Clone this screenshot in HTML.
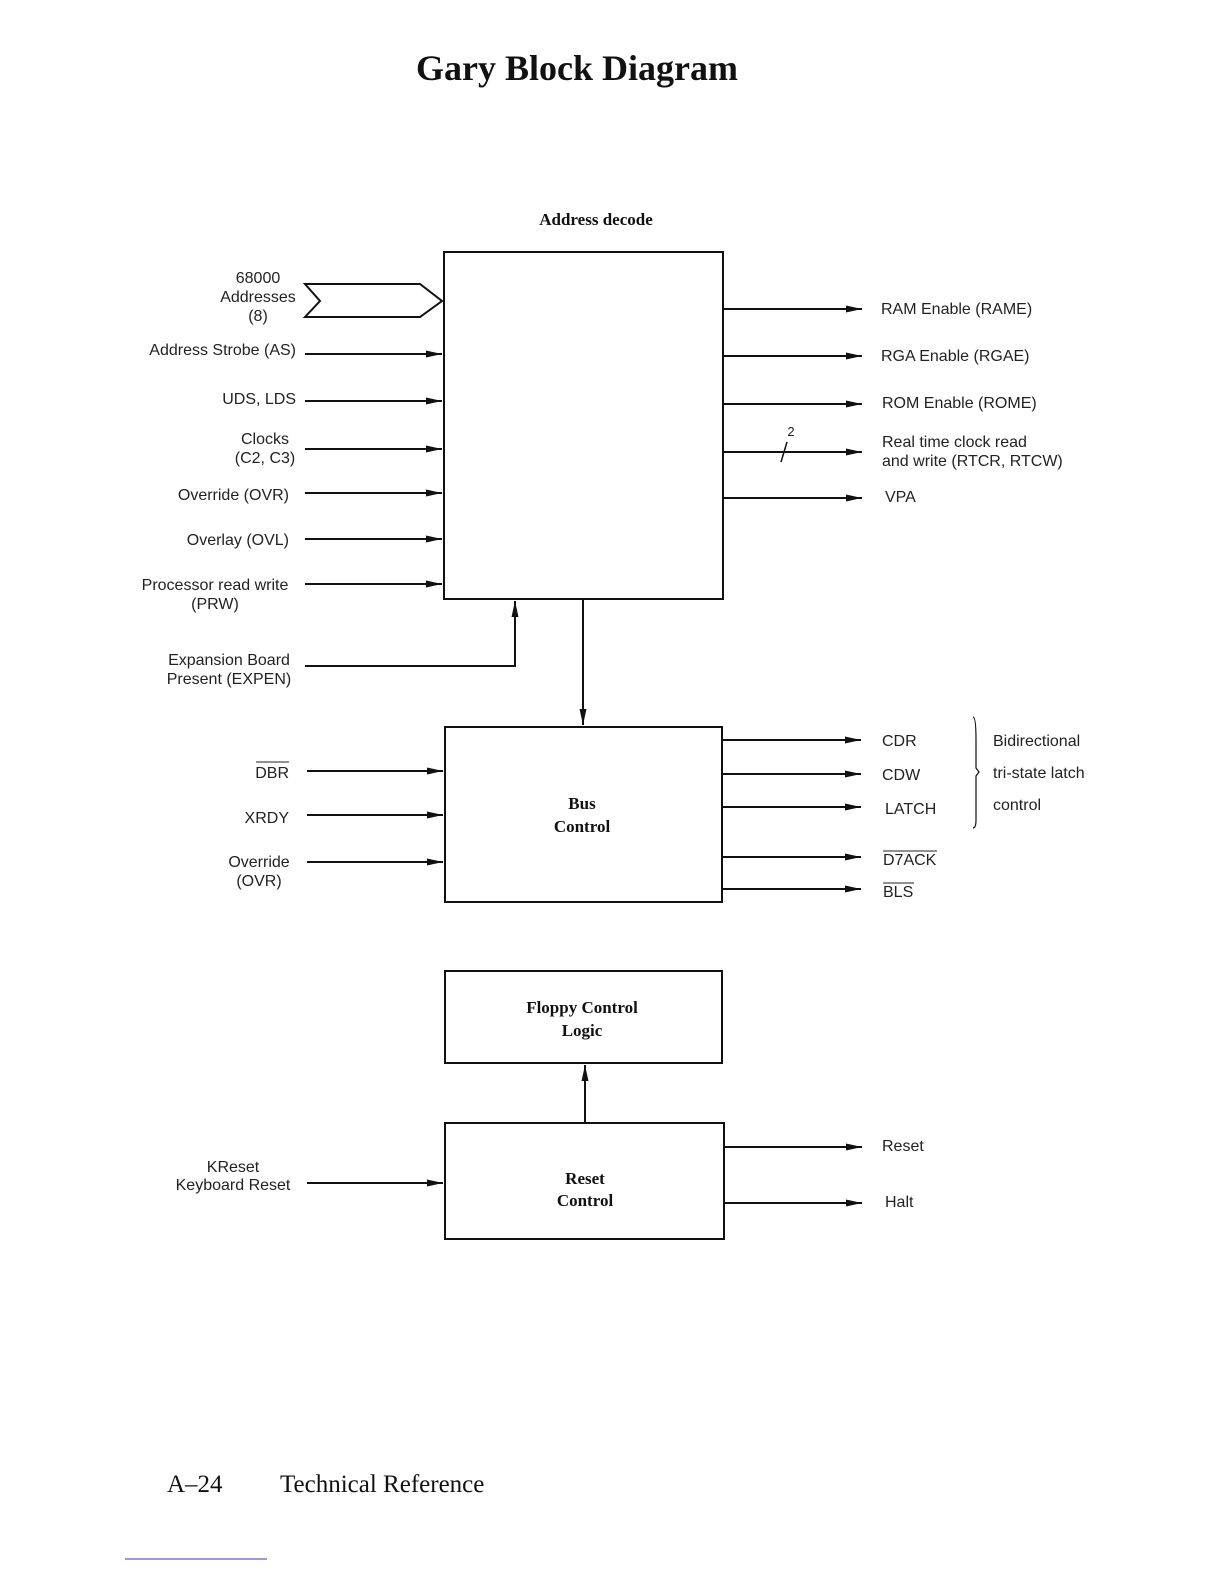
<!DOCTYPE html>
<html><head><meta charset="utf-8"><style>
body{margin:0;background:#fff;}
svg{display:block;}
text{font-family:"Liberation Sans",sans-serif;font-size:16px;fill:#222;}
.s{font-family:"Liberation Serif",serif;font-weight:bold;font-size:17px;fill:#111;}
</style></head><body>
<svg width="1224" height="1584" viewBox="0 0 1224 1584" xmlns="http://www.w3.org/2000/svg">
<defs><marker id="a" viewBox="0 0 16 8" refX="16" refY="4" markerWidth="16" markerHeight="8" markerUnits="userSpaceOnUse" orient="auto"><path d="M0,0.5 L16,4 L0,7.5 z" fill="#111"/></marker></defs>
<text x="577" y="80" text-anchor="middle" style="font-family:'Liberation Serif',serif;font-weight:bold;font-size:36px;fill:#111">Gary Block Diagram</text>
<text x="596" y="225" text-anchor="middle" class="s">Address decode</text>
<g fill="none" stroke="#111" stroke-width="2">
<rect x="444" y="252" width="279" height="347"/>
<rect x="445" y="727" width="277" height="175"/>
<rect x="445" y="971" width="277" height="92"/>
<rect x="445" y="1123" width="279" height="116"/>
<path d="M305,284 L420,284 L442,301 L420,317 L305,317 L320,301 Z"/>
<path d="M305,666 L515,666 L515,601" marker-end="url(#a)"/>
<path d="M583,599 L583,725" marker-end="url(#a)"/>
<path d="M585,1123 L585,1065" marker-end="url(#a)"/>
<path d="M781,462 L787,442" stroke-width="1.5"/>
<path d="M973,717 Q976,717 976,740 L976,768 L979,772 L976,776 L976,820 Q976,828 973,828" stroke-width="1.2"/>
</g>
<g stroke="#111" stroke-width="2" marker-end="url(#a)">
<line x1="305" y1="354" x2="442" y2="354"/>
<line x1="305" y1="401" x2="442" y2="401"/>
<line x1="305" y1="449" x2="442" y2="449"/>
<line x1="305" y1="493" x2="442" y2="493"/>
<line x1="305" y1="539" x2="442" y2="539"/>
<line x1="305" y1="584" x2="442" y2="584"/>
<line x1="723" y1="309" x2="862" y2="309"/>
<line x1="723" y1="356" x2="862" y2="356"/>
<line x1="723" y1="404" x2="862" y2="404"/>
<line x1="723" y1="452" x2="862" y2="452"/>
<line x1="723" y1="498" x2="862" y2="498"/>
<line x1="307" y1="771" x2="443" y2="771"/>
<line x1="307" y1="815" x2="443" y2="815"/>
<line x1="307" y1="862" x2="443" y2="862"/>
<line x1="722" y1="740" x2="861" y2="740"/>
<line x1="722" y1="774" x2="861" y2="774"/>
<line x1="722" y1="807" x2="861" y2="807"/>
<line x1="722" y1="857" x2="861" y2="857"/>
<line x1="722" y1="889" x2="861" y2="889"/>
<line x1="307" y1="1183" x2="443" y2="1183"/>
<line x1="724" y1="1147" x2="862" y2="1147"/>
<line x1="724" y1="1203" x2="862" y2="1203"/>
</g>
<g text-anchor="middle">
<text x="258" y="283">68000</text><text x="258" y="302">Addresses</text><text x="258" y="321">(8)</text>
<text x="265" y="444">Clocks</text><text x="265" y="463">(C2, C3)</text>
<text x="215" y="590">Processor read write</text><text x="215" y="609">(PRW)</text>
<text x="229" y="665">Expansion Board</text><text x="229" y="684">Present (EXPEN)</text>
<text x="259" y="867">Override</text><text x="259" y="886">(OVR)</text>
<text x="233" y="1172">KReset</text><text x="233" y="1190">Keyboard Reset</text>
<text x="791" y="436" style="font-size:13px">2</text>
</g>
<g text-anchor="end">
<text x="296" y="355">Address Strobe (AS)</text>
<text x="296" y="404">UDS, LDS</text>
<text x="289" y="500">Override (OVR)</text>
<text x="289" y="545">Overlay (OVL)</text>
<text x="289" y="778">DBR</text>
<text x="289" y="823">XRDY</text>
</g>
<line x1="256" y1="762" x2="289" y2="762" stroke="#222" stroke-width="1"/>
<g>
<text x="881" y="314">RAM Enable (RAME)</text>
<text x="881" y="361">RGA Enable (RGAE)</text>
<text x="882" y="408">ROM Enable (ROME)</text>
<text x="882" y="447">Real time clock read</text>
<text x="882" y="466">and write (RTCR, RTCW)</text>
<text x="885" y="502">VPA</text>
<text x="882" y="746">CDR</text>
<text x="882" y="780">CDW</text>
<text x="885" y="814">LATCH</text>
<text x="883" y="865">D7ACK</text>
<text x="883" y="897">BLS</text>
<text x="993" y="746">Bidirectional</text>
<text x="993" y="778">tri-state latch</text>
<text x="993" y="810">control</text>
<text x="882" y="1151">Reset</text>
<text x="885" y="1207">Halt</text>
</g>
<line x1="883" y1="851" x2="937" y2="851" stroke="#222" stroke-width="1"/>
<line x1="883" y1="883" x2="914" y2="883" stroke="#222" stroke-width="1"/>
<g text-anchor="middle" class="s">
<text class="s" x="582" y="809">Bus</text><text class="s" x="582" y="832">Control</text>
<text class="s" x="582" y="1013">Floppy Control</text><text class="s" x="582" y="1036">Logic</text>
<text class="s" x="585" y="1184">Reset</text><text class="s" x="585" y="1206">Control</text>
</g>
<text x="167" y="1492" style="font-family:'Liberation Serif',serif;font-size:25px;fill:#111">A–24</text>
<text x="280" y="1492" style="font-family:'Liberation Serif',serif;font-size:25px;fill:#111">Technical Reference</text>
<line x1="125" y1="1559" x2="267" y2="1559" stroke="#33c" stroke-width="1"/>
</svg>
</body></html>
